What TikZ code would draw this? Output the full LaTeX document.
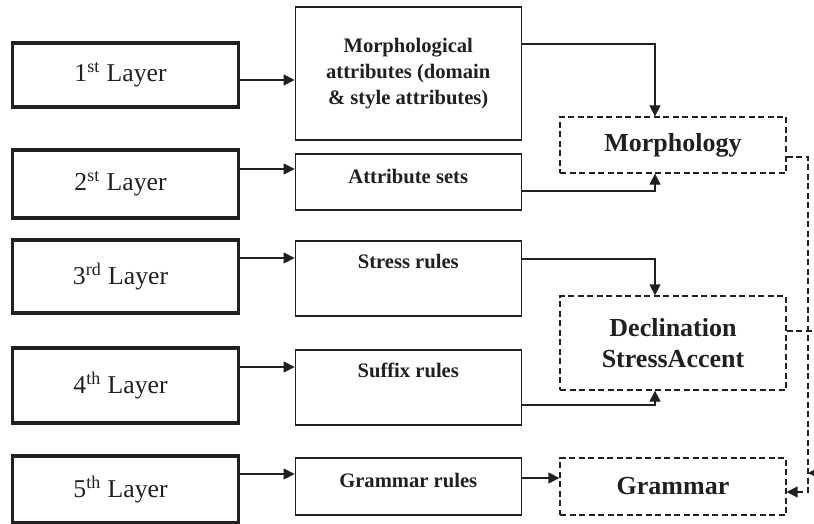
\documentclass[tikz,border=0pt]{standalone}
\usepackage{fontspec}
\setmainfont{Liberation Serif}
\usetikzlibrary{arrows.meta}
\definecolor{ink}{HTML}{231F20}
\tikzset{
  layer/.style={draw=ink, line width=1.75pt, minimum width=113pt, inner sep=0pt,
    font=\fontsize{12.85}{15}\selectfont, text=ink},
  rulebox/.style={draw=ink, line width=0.65pt, minimum width=113pt, inner sep=0pt,
    align=center, font=\bfseries\fontsize{10.3}{13}\selectfont, text=ink},
  part/.style={rulebox, dash pattern=on 3pt off 1.75pt,
    font=\bfseries\fontsize{13}{15.5}\selectfont},
  arr/.style={draw=ink, line width=0.65pt, -{Triangle[length=5.5pt,width=5.5pt]}},
  darr/.style={arr, dash pattern=on 3pt off 1.75pt},
}
\begin{document}
\begin{tikzpicture}[x=0.5pt,y=-0.5pt]
\useasboundingbox (0,0) rectangle (814,524);
\clip (0,0) rectangle (814,524);

% layers
\node[layer, minimum height=32pt] (l1) at (125.5,75) {1\textsuperscript{st} Layer\hspace*{5pt}};
\node[layer, minimum height=34pt] (l2) at (125.5,184) {2\textsuperscript{st} Layer\hspace*{5pt}};
\node[layer, minimum height=36.5pt] (l3) at (125.5,276.5) {3\textsuperscript{rd} Layer\hspace*{5pt}};
\node[layer, minimum height=37.5pt] (l4) at (125.5,385.5) {4\textsuperscript{th} Layer\hspace*{5pt}};
\node[layer, minimum height=33.5pt] (l5) at (125.5,489.5) {5\textsuperscript{th} Layer\hspace*{5pt}};

% rule sets
\node[rulebox, minimum height=66.5pt] (m1) at (408.25,73.5) {Morphological\\attributes (domain\\\& style attributes)};
\node[rulebox, minimum height=28pt, text depth=5.7pt] (m2) at (408.25,182) {Attribute sets};
\node[rulebox, minimum height=37.5pt, text depth=17pt] (m3) at (408.25,278.5) {Stress rules};
\node[rulebox, minimum height=37.5pt, text depth=17pt] (m4) at (408.25,387.5) {Suffix rules};
\node[rulebox, minimum height=28.5pt, text depth=5.7pt] (m5) at (408.25,486.5) {Grammar rules};

% parts
\node[part, minimum height=28pt] (morph) at (673,145) {Morphology};
\node[part, minimum height=47pt] (decl) at (673,343) {Declination\\StressAccent};
\node[part, minimum height=28.5pt] (gram) at (673,486.5) {Grammar};

\draw[arr] (l1.east |- 0,80) -- (m1.west |- 0,80);
\draw[arr] (l2.east |- 0,169) -- (m2.west |- 0,169);
\draw[arr] (l3.east |- 0,258) -- (m3.west |- 0,258);
\draw[arr] (l4.east |- 0,367) -- (m4.west |- 0,367);
\draw[arr] (l5.east |- 0,474) -- (m5.west |- 0,474);

\draw[arr] (m1.east |- 0,44) -| ([xshift=-9pt]morph.north);
\draw[arr] (m2.east |- 0,191) -| ([xshift=-9pt]morph.south);
\draw[arr] (m3.east |- 0,259) -| ([xshift=-9pt]decl.north);
\draw[arr] (m4.east |- 0,405) -| ([xshift=-9pt]decl.south);
\draw[arr] (m5.east |- 0,478) -- (gram.west |- 0,478);

\draw[darr] (morph.east |- 0,157) -| (808,492) -- (gram.east |- 0,492);
\draw[darr] (decl.east |- 0,331) -- (822,331) |- (808,473);
\end{tikzpicture}
\end{document}
